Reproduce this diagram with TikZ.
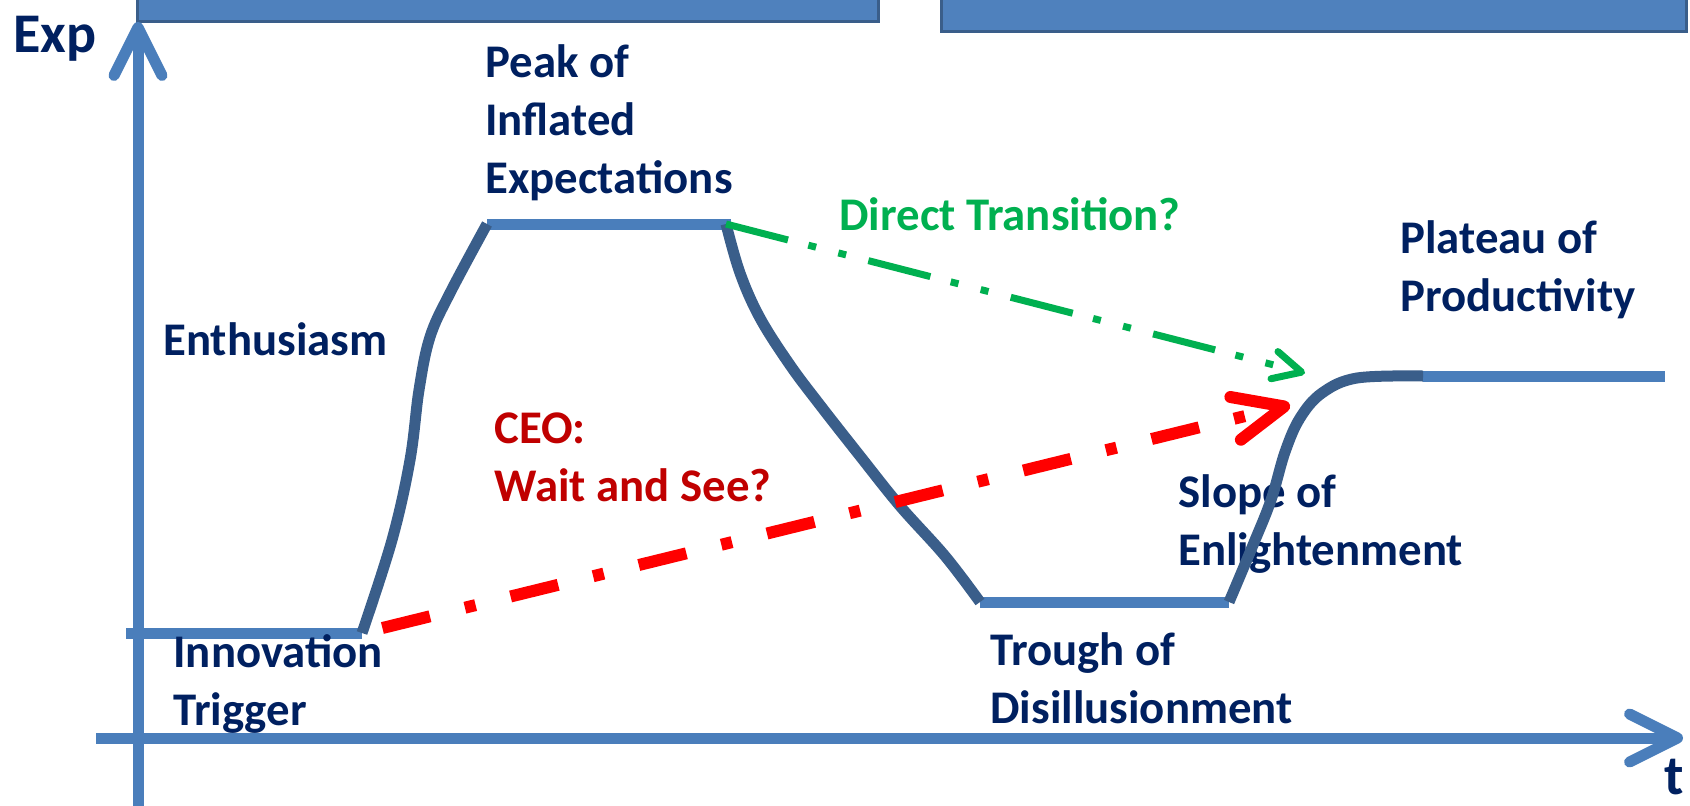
\documentclass[tikz,border=0pt]{standalone}
\usepackage{fontspec}
\setmainfont{Carlito}
\usepackage{xcolor}
\definecolor{navytext}{RGB}{0,32,96}
\definecolor{axisblue}{RGB}{74,126,187}
\definecolor{curveblue}{RGB}{58,94,138}
\definecolor{barfill}{RGB}{79,129,189}
\definecolor{ceored}{RGB}{192,0,0}
\definecolor{transgreen}{RGB}{0,176,80}
\usepackage{tikz}
\usetikzlibrary{arrows.meta}
\newcommand{\phasestack}[1]{\begin{tabular}[t]{@{}l@{}}#1\end{tabular}}
\tikzstyle{phasetext} = [font=\bfseries\fontsize{23.4}{29}\selectfont, text=navytext, anchor=base west, inner sep=0pt]
\tikzstyle{axistext} = [font=\bfseries\fontsize{28}{34}\selectfont, text=navytext, anchor=base west, inner sep=0pt]
\tikzstyle{axisline} = [draw=axisblue, line width=5.5pt, -{Straight Barb[length=24pt, width=24pt, round]}]
\tikzstyle{plateau} = [draw=axisblue, line width=5.5pt]
\tikzstyle{curveline} = [draw=curveblue, line width=5.5pt]
\tikzstyle{topbar} = [fill=barfill, draw=curveblue, line width=1.5pt]
\tikzstyle{ceoarrow} = [draw=red, line width=6pt, dash pattern=on 24.5pt off 18pt on 5.5pt off 18pt, -{Straight Barb[length=25pt, width=22pt, round]}]
\tikzstyle{directarrow} = [draw=transgreen, line width=3.5pt, dash pattern=on 32pt off 10.5pt on 4pt off 11.5pt on 4pt off 11.5pt, -{Straight Barb[length=14pt, width=14pt, round]}]

\begin{document}
\begin{tikzpicture}[x=0.5pt, y=-0.5pt]

    \useasboundingbox (0,0) rectangle (1690,805);
    \clip (0,0) rectangle (1690,805);

    % bars at the top
    \draw[topbar] (137,-20) rectangle (878,21);
    \draw[topbar] (941,-20) rectangle (1686,31);

    % axes
    \coordinate (yBottom) at (138,812);
    \coordinate (yTop) at (138,22);
    \coordinate (xLeft) at (96,738);
    \coordinate (xRight) at (1683,738);
    \draw[axisline] (yBottom) -- (yTop);
    \draw[axisline] (xLeft) -- (xRight);
    \node (exp) [axistext] at (13,52) {Exp};
    \node (time) [axistext] at (1664,794) {t};

    % flat parts of the cycle
    \coordinate (trigL) at (126,633);
    \coordinate (trigR) at (362,633);
    \coordinate (peakL) at (487,224);
    \coordinate (peakR) at (726,224);
    \coordinate (troughL) at (980,602);
    \coordinate (troughR) at (1229,602);
    \coordinate (prodL) at (1423,376);
    \coordinate (prodR) at (1665,376);
    \draw[plateau] (trigL) -- (trigR);
    \draw[plateau] (peakL) -- (731,224);
    \draw[plateau] (troughL) -- (troughR);
    \draw[plateau] (prodL) -- (prodR);

    % phase names
    \node (trigger) [phasetext] at (173,667) {\phasestack{Innovation\\Trigger}};
    \node (peak) [phasetext] at (485,77) {\phasestack{Peak of\\Inflated\\Expectations}};
    \node (enthusiasm) [phasetext] at (163,355) {Enthusiasm};
    \node (trough) [phasetext] at (990,665) {\phasestack{Trough of\\Disillusionment}};
    \node (slope) [phasetext] at (1178,507) {\phasestack{Slope of\\Enlightenment}};
    \node (productivity) [phasetext] at (1400,253) {\phasestack{Plateau of\\Productivity}};
    \node (ceo) [phasetext, text=ceored] at (494,443) {\phasestack{CEO:\\Wait and See?}};
    \node (direct) [phasetext, text=transgreen] at (839,230) {Direct Transition?};

    % the curve between the flat parts
    \draw[curveline] plot[smooth, tension=0.6] coordinates {(trigR) (392,540) (410,460) (419,390) (430,337) (450,293) (peakL)};
    \draw[curveline] plot[smooth, tension=0.6] coordinates {(peakR) (740,273) (760,318) (790,365) (820,405) (860,456) (900,506) (945,556) (troughL)};
    \draw[curveline] plot[smooth, tension=0.6] coordinates {(troughR) (1253,545) (1271,500) (1285,452) (1300,418) (1322,393) (1357,378) (prodL)};

    % the two shortcuts
    \coordinate (greenTip) at (1305,373);
    \coordinate (redTip) at (1290,405);
    \draw[directarrow] (peakR) -- (greenTip);
    \draw[ceoarrow, shorten <=10.5pt] (trigR) -- (redTip);

\end{tikzpicture}
\end{document}
